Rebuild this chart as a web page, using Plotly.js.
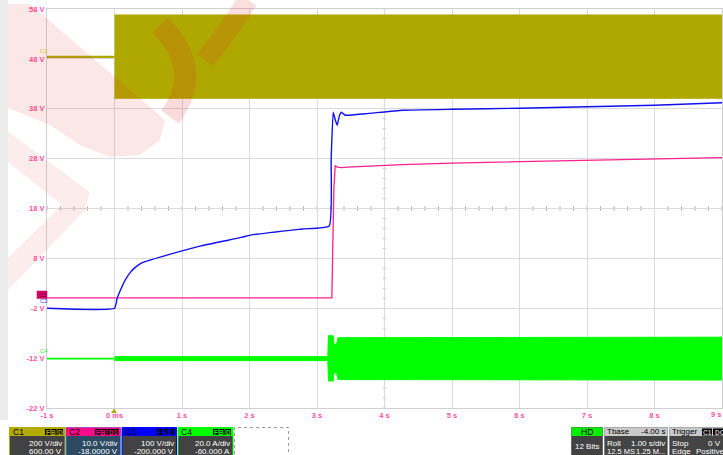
<!DOCTYPE html>
<html><head><meta charset="utf-8">
<script src="https://cdn.plot.ly/plotly-3.0.1.min.js"></script>
<style>html,body{margin:0;padding:0;background:#fff;overflow:hidden}#chart{width:723px;height:455px}</style>
</head><body><div id="chart"></div>
<script>
// ---- axis ticks ----
const xTickVals = [-1, 0, 1, 2, 3, 4, 5, 6, 7, 8];
const xTickText = ['-1 s', '0 ms', '1 s', '2 s', '3 s', '4 s', '5 s', '6 s', '7 s', '8 s'];
const xLastTickText = '9 s';
const yTickVals = [-22, -12, -2, 8, 18, 28, 38, 48, 58];
const yTickText = ['-22 V', '-12 V', '-2 V', '8 V', '18 V', '28 V', '38 V', '48 V', '58 V'];

// ---- C1 (olive) ----
const c1PreTime = [-1, 0];
const c1PreVolt = [48.4, 48.4];
const c1BandTime = [0, 9];
const c1BandUpper = [56.8, 56.8];
const c1BandLower = [40.1, 40.1];

// ---- C2 (magenta) ----
const c2Time = [-1, 3.22, 3.25, 3.27, 3.30, 3.36, 3.45, 3.72, 4.27, 5, 6, 7, 8, 9];
const c2Volt = [0.1, 0.1, 22, 26.6, 26.3, 26.2, 26.3, 26.5, 26.8, 27.1, 27.4, 27.7, 28.0, 28.2];

// ---- C3 (blue) ----
const c3Time = [-1, 0, 0.04, 0.09, 0.16, 0.24, 0.29, 0.39, 0.49, 0.79, 1.28, 1.88, 2.03, 2.78, 3.18, 3.21, 3.24, 3.27, 3.30, 3.33, 3.36, 3.42, 3.72, 4.27, 5, 6, 7, 8, 9];
const c3Volt = [-2.0, -2.0, 0.0, 1.7, 3.7, 5.3, 6.0, 7.0, 7.5, 8.7, 10.5, 12.2, 12.7, 13.9, 14.5, 28, 37.3, 35.8, 34.7, 36.5, 37.3, 36.7, 37.0, 37.7, 37.9, 38.1, 38.4, 38.7, 39.2];

// ---- C4 (green) ----
const c4PreTime = [-1, 0];
const c4PreVolt = [-12.1, -12.1];
const c4BandTime = [0, 3.16, 3.17, 3.24, 3.25, 3.29, 3.31, 9];
const c4BandUpper = [-11.7, -11.7, -7.5, -7.5, -9.2, -9.2, -7.9, -7.8];
const c4BandLower = [-12.5, -12.5, -16.6, -16.6, -15.0, -15.0, -16.3, -16.4];

// ---- colours ----
const OLIVE = '#afa800', MAGENTA = '#ff1f8e', BLUE = '#1010f0', GREEN = '#00ff00';

const traces = [
  {x: c1BandTime, y: c1BandLower, mode: 'lines', line: {color: OLIVE, width: 1}, hoverinfo: 'skip'},
  {x: c1BandTime, y: c1BandUpper, mode: 'lines', line: {color: OLIVE, width: 1}, fill: 'tonexty', fillcolor: OLIVE, hoverinfo: 'skip'},
  {x: c1PreTime, y: c1PreVolt, mode: 'lines', line: {color: OLIVE, width: 2.2}},
  {x: c2Time, y: c2Volt, mode: 'lines', line: {color: MAGENTA, width: 1.3}},
  {x: c3Time, y: c3Volt, mode: 'lines', line: {color: BLUE, width: 1.4, shape: 'spline', smoothing: 0.4}},
  {x: c4BandTime, y: c4BandLower, mode: 'lines', line: {color: GREEN, width: 1}, hoverinfo: 'skip'},
  {x: c4BandTime, y: c4BandUpper, mode: 'lines', line: {color: GREEN, width: 1}, fill: 'tonexty', fillcolor: GREEN, hoverinfo: 'skip'},
  {x: c4PreTime, y: c4PreVolt, mode: 'lines', line: {color: GREEN, width: 1.8}}
];

// ---- pixel -> paper helpers ----
const L = 47, T = 9, W = 675, H = 399;
const fx = p => (p - L) / W;
const fy = p => (T + H - p) / H;
const shapes = [], annotations = [];
const SANS = 'Liberation Sans, Arial, sans-serif';

function rect(x0, y0, x1, y1, fill, line, layer) {
  shapes.push({type: 'rect', xref: 'paper', yref: 'paper', x0: fx(x0), x1: fx(x1), y0: fy(y1), y1: fy(y0),
    fillcolor: fill, line: line || {width: 0}, layer: layer || 'above'});
}
function poly(pts, fill, layer) {
  const d = pts.map((p, i) => (i ? 'L' : 'M') + fx(p[0]) + ',' + fy(p[1])).join(' ') + ' Z';
  shapes.push({type: 'path', xref: 'paper', yref: 'paper', path: d, fillcolor: fill, line: {width: 0}, layer: layer || 'above'});
}
function qstroke(a, c, b, color, width) {
  const d = 'M' + fx(a[0]) + ',' + fy(a[1]) + ' Q' + fx(c[0]) + ',' + fy(c[1]) + ' ' + fx(b[0]) + ',' + fy(b[1]);
  shapes.push({type: 'path', xref: 'paper', yref: 'paper', path: d, line: {color: color, width: width}, layer: 'above'});
}
function text(x, y, str, color, size, anchor, weight) {
  annotations.push({xref: 'paper', yref: 'paper', x: fx(x), y: fy(y), text: str, showarrow: false,
    xanchor: anchor || 'left', yanchor: 'middle', borderpad: 0,
    font: {family: SANS, size: size || 8, color: color || '#ffffff', weight: weight || 'normal'}});
}

// ---- left grey strip ----
rect(0, 0, 8, 420, '#ececec', null, 'below');

// ---- centre graticule lines with minor ticks ----
shapes.push({type: 'line', xref: 'x', yref: 'y', x0: -1, x1: 9, y0: 18, y1: 18, line: {color: '#a8a8a8', width: 1}, layer: 'below'});
for (let i = 0; i <= 50; i++) {
  const t = -1 + i * 0.2;
  shapes.push({type: 'line', xref: 'x', yref: 'y', x0: t, x1: t, y0: 17.6, y1: 18.4, line: {color: '#a0a0a0', width: 1}, layer: 'below'});
}
for (let i = 0; i <= 40; i++) {
  const v = -22 + i * 2;
  shapes.push({type: 'line', xref: 'x', yref: 'y', x0: 3.975, x1: 4.025, y0: v, y1: v, line: {color: '#c4c4c4', width: 1}, layer: 'below'});
}

// ---- watermark (faint red logo) ----
const WM = 'rgba(232,40,40,0.11)';
poly([[8, 4], [30, 4], [165, 120], [160, 140], [140, 155], [110, 157], [80, 145], [50, 125], [8, 108]], WM);
poly([[8, 132], [90, 192], [85, 210], [8, 290], [8, 258], [62, 205], [8, 162]], 'rgba(232,40,40,0.09)');
qstroke([160, 25], [205, 70], [170, 117], 'rgba(225,40,40,0.17)', 22);
qstroke([248, 0], [228, 32], [205, 60], 'rgba(225,40,40,0.15)', 20);

// ---- last x tick label (kept inside the frame like the scope does) ----
text(716, 414, xLastTickText, '#ff4fa0', 7.5, 'center', 'bold');

// ---- channel markers on left ----
text(39, 51, 'C1', '#d8c000', 6, 'left');
rect(37, 291, 47, 298.5, '#e0006e', {color: '#a0004e', width: 0.5});
text(38, 294.8, 'C2', '#50001f', 5.5, 'left');
text(39, 301, 'C3', '#3030ff', 6, 'left');
text(39, 350.5, 'C4', '#30e030', 6, 'left');

// trigger marker
poly([[111, 413], [117, 413], [114, 408.5]], OLIVE);

// ---- bottom channel boxes ----
function chanBox(x0, x1, head, name, tags, body1, body2, bodyFill, border) {
  rect(x0, 427.5, x1, 456, bodyFill, {color: border, width: 1});
  rect(x0, 427.5, x1, 436, head, {width: 0});
  text(x0 + 2, 431.8, name, '#000000', 8.5, 'left');
  let xr = x1 - 2;
  for (let i = tags.length - 1; i >= 0; i--) {
    const w = tags[i].length > 1 ? 11 : 5.5;
    rect(xr - w, 429, xr, 435, '#000000');
    text(xr - w / 2, 432, tags[i], head, 6.5, 'center', 'bold');
    xr -= w + 0.8;
  }
  text(x1 - 2, 443, body1, '#ffffff', 8, 'right');
  text(x1 - 2, 451.5, body2, '#ffffff', 8, 'right');
}
chanBox(9.5, 65, '#b4ab00', 'C1', ['F', 'B', 'D'], '200 V/div', '600.00 V', '#424242', '#b4ab00');
chanBox(66, 120.5, '#ff0a88', 'C2', ['F', 'B', 'D1'], '10.0 V/div', '-18.0000 V', '#2d4a63', '#4d8fe0');
chanBox(122, 176.5, '#0000ff', 'C3', ['F', 'B', 'D'], '100 V/div', '-200.000 V', '#424242', '#0000ff');
chanBox(178, 233, '#00ff00', 'C4', ['F', 'B', 'D'], '20.0 A/div', '-60.000 A', '#424242', '#00ff00');
shapes.push({type: 'rect', xref: 'paper', yref: 'paper', x0: fx(234.5), x1: fx(288.5), y0: fy(458), y1: fy(427.5),
  line: {color: '#9a9a9a', width: 1, dash: 'dot'}, fillcolor: 'rgba(0,0,0,0)', layer: 'above'});

// HD box
rect(571.5, 427.5, 602.5, 456, '#424242', {color: '#6a6a6a', width: 1});
rect(571.5, 427.5, 602.5, 436, '#00ee00');
text(587, 431.8, 'HD', '#000000', 8.5, 'center');
text(587, 446, '12 Bits', '#ffffff', 8, 'center');

// Tbase box
rect(604.5, 427.5, 667.5, 456, '#444444', {color: '#8a8a8a', width: 1});
rect(604.5, 427.5, 667.5, 436, '#c9c9c9');
text(606, 431.8, 'Tbase', '#000000', 8, 'left');
text(666, 431.8, '-4.00 s', '#000000', 8, 'right');
text(606, 443, 'Roll', '#ffffff', 8, 'left');
text(666, 443, '1.00 s/div', '#ffffff', 8, 'right');
text(606, 451.5, '12.5 MS', '#ffffff', 7.5, 'left');
text(666, 451.5, '1.25 M...', '#ffffff', 7.5, 'right');

// Trigger box
rect(669.5, 427.5, 726, 456, '#444444', {color: '#8a8a8a', width: 1});
rect(669.5, 427.5, 726, 436, '#c9c9c9');
text(671, 431.8, 'Trigger', '#000000', 8, 'left');
rect(702, 428.5, 712, 435.5, '#000000');
text(707, 432, 'C1', '#c9c9c9', 6.5, 'center', 'bold');
rect(713, 428.5, 726, 435.5, '#000000');
text(714, 432, 'DC', '#c9c9c9', 6.5, 'left', 'bold');
text(671, 443, 'Stop', '#ffffff', 8, 'left');
text(722, 443, '0 V', '#ffffff', 8, 'right');
text(671, 451.5, 'Edge', '#ffffff', 8, 'left');
text(726, 451.5, 'Positive', '#ffffff', 8, 'right');

const tickFont = {family: SANS, size: 7.5, color: '#ff4fa0', weight: 'bold'};
const layout = {
  width: 723, height: 455,
  margin: {l: L, r: 1, t: T, b: 47, pad: 0},
  paper_bgcolor: '#ffffff', plot_bgcolor: '#ffffff',
  showlegend: false,
  xaxis: {range: [-1, 9], tickmode: 'array', tickvals: xTickVals, ticktext: xTickText, showgrid: true,
    gridcolor: '#dadada', gridwidth: 1, zeroline: false, showline: true, linecolor: '#d0d0d0', mirror: true,
    ticks: '', tickfont: tickFont, fixedrange: true},
  yaxis: {range: [-22, 58], tickmode: 'array', tickvals: yTickVals, ticktext: yTickText, showgrid: true,
    gridcolor: '#dadada', gridwidth: 1, zeroline: false, showline: true, linecolor: '#d0d0d0', mirror: true,
    ticks: '', tickfont: tickFont, fixedrange: true},
  shapes: shapes,
  annotations: annotations
};
Plotly.newPlot('chart', traces, layout, {displayModeBar: false, staticPlot: true});
</script>
</body></html>
